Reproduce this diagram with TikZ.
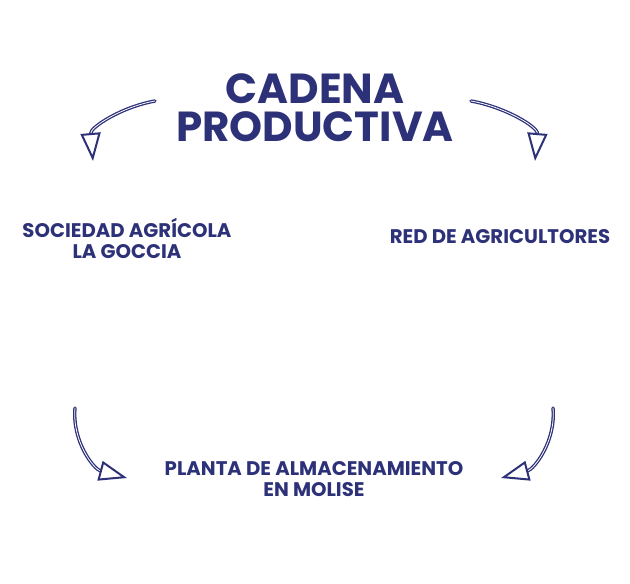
\documentclass[tikz,border=0pt]{standalone}
\usepackage{fontspec}
\setmainfont{Poppins}
\usetikzlibrary{arrows.meta}
\definecolor{chain}{HTML}{2D3178}

\begin{document}
\begin{tikzpicture}
[x=1pt,y=-1pt,
every node/.style={
  font=\bfseries, text=chain, align=center, inner sep=0pt
},
title/.style={
  font=\bfseries\fontsize{42}{38}\selectfont
},
actor/.style={
  font=\bfseries\fontsize{19.7}{21}\selectfont
},
flow/.style={
  draw=chain, line width=1.3pt, double=white, double distance=0.8pt,
  line cap=round,
  -{Triangle[open,length=28pt,width=20pt,line width=2pt]}
}
]
\useasboundingbox (0,0) rectangle (630,584);

% Title
\node[title] (chain) at (315,108) {CADENA\\PRODUCTIVA};

% Actors
\node[actor] (goccia) at (127,238) {SOCIEDAD AGRÍCOLA\\LA GOCCIA};
\node[actor] (farmers) at (500,237) {RED DE AGRICULTORES};
\node[actor] (plant) at (314,479) {PLANTA DE ALMACENAMIENTO\\EN MOLISE};

% Arrow ends
\coordinate (tl start) at (155,101);
\coordinate (tl end) at (93,161);
\coordinate (tr start) at (471,101);
\coordinate (tr end) at (535,161);
\coordinate (bl start) at (75,408);
\coordinate (bl end) at (127,478);
\coordinate (br start) at (553,408);
\coordinate (br end) at (501,478);

% Arrows
\draw[flow] (tl start) to[out=190,in=95] (tl end);
\draw[flow] (tr start) to[out=-10,in=85] (tr end);
\draw[flow] (bl start) to[out=-95,in=165] (bl end);
\draw[flow] (br start) to[out=-85,in=15] (br end);

\end{tikzpicture}
\end{document}
